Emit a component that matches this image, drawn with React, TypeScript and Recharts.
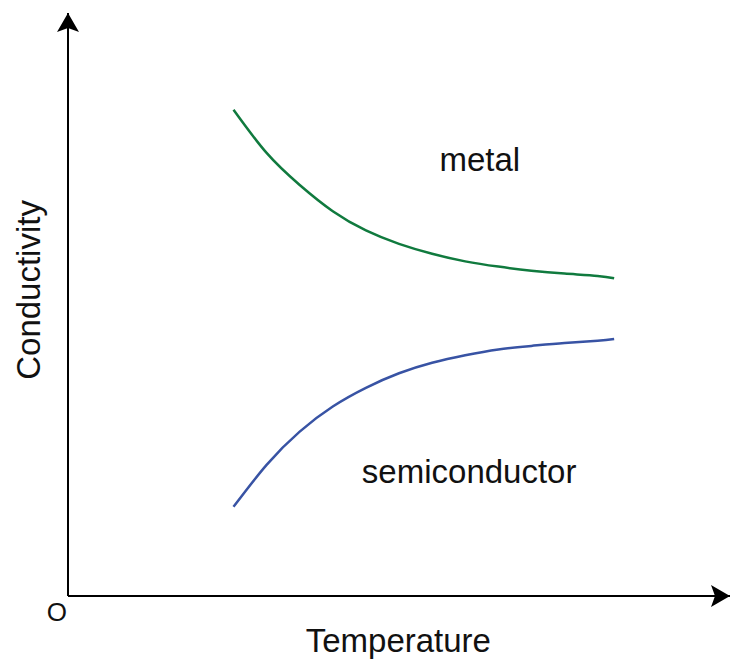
import React from "react";
import { LineChart, Line, XAxis, YAxis, ReferenceLine, ReferenceDot } from "recharts";

const temperature = [2.5, 3.0, 3.5, 4.0, 4.5, 5.0, 5.5, 6.0, 6.5, 7.0, 7.5, 8.0, 8.25];
const metal = [8.34, 7.6, 7.05, 6.6, 6.27, 6.04, 5.87, 5.74, 5.65, 5.58, 5.53, 5.49, 5.45];
const semiconductor = [1.53, 2.25, 2.82, 3.25, 3.57, 3.82, 4.0, 4.13, 4.23, 4.29, 4.34, 4.38, 4.41];

const data = temperature.map((t, i) => ({ t, metal: metal[i], semi: semiconductor[i] }));

const FONT = "'Liberation Sans', Arial, Helvetica, sans-serif";

const TextShape = (txt: string, size: number, rotate = 0) => (props: any) => {
  const { cx, cy } = props;
  return (
    <text
      x={cx}
      y={cy}
      textAnchor="middle"
      dominantBaseline="central"
      fontFamily={FONT}
      fontSize={size}
      fill="#111"
      transform={rotate ? `rotate(${rotate} ${cx} ${cy})` : undefined}
    >
      {txt}
    </text>
  );
};

const UpArrow = (props: any) => {
  const { cx, cy } = props;
  return (
    <path
      d={`M${cx},${cy} L${cx + 11},${cy + 19} L${cx},${cy + 15} L${cx - 11},${cy + 19} Z`}
      fill="#000"
    />
  );
};

const RightArrow = (props: any) => {
  const { cx, cy } = props;
  return (
    <path
      d={`M${cx},${cy} L${cx - 19},${cy - 11} L${cx - 15},${cy} L${cx - 19},${cy + 11} Z`}
      fill="#000"
    />
  );
};

export default function App() {
  return (
    <div style={{ position: "absolute", left: 0, top: 0, background: "#fff" }}>
      <LineChart
        width={730}
        height={659}
        data={data}
        margin={{ top: 13, right: 0, left: 68, bottom: 63 }}
      >
        <XAxis dataKey="t" type="number" domain={[0, 10]} hide />
        <YAxis type="number" domain={[0, 10]} hide />
        <ReferenceLine x={0} stroke="#000" strokeWidth={2} />
        <ReferenceLine y={0} stroke="#000" strokeWidth={2} />
        <ReferenceDot x={0} y={10} r={0} ifOverflow="visible" shape={UpArrow} />
        <ReferenceDot x={10} y={0} r={0} ifOverflow="visible" shape={RightArrow} />
        <Line
          dataKey="metal"
          type="natural"
          stroke="#107a3e"
          strokeWidth={2.5}
          dot={false}
          isAnimationActive={false}
        />
        <Line
          dataKey="semi"
          type="natural"
          stroke="#3853a4"
          strokeWidth={2.5}
          dot={false}
          isAnimationActive={false}
        />
        <ReferenceDot x={6.22} y={7.48} r={0} ifOverflow="visible" shape={TextShape("metal", 33)} />
        <ReferenceDot x={6.06} y={2.13} r={0} ifOverflow="visible" shape={TextShape("semiconductor", 33)} />
        <ReferenceDot x={4.99} y={-0.77} r={0} ifOverflow="visible" shape={TextShape("Temperature", 33)} />
        <ReferenceDot x={-0.17} y={-0.27} r={0} ifOverflow="visible" shape={TextShape("O", 26)} />
        <ReferenceDot x={-0.6} y={5.25} r={0} ifOverflow="visible" shape={TextShape("Conductivity", 33, -90)} />
      </LineChart>
    </div>
  );
}
